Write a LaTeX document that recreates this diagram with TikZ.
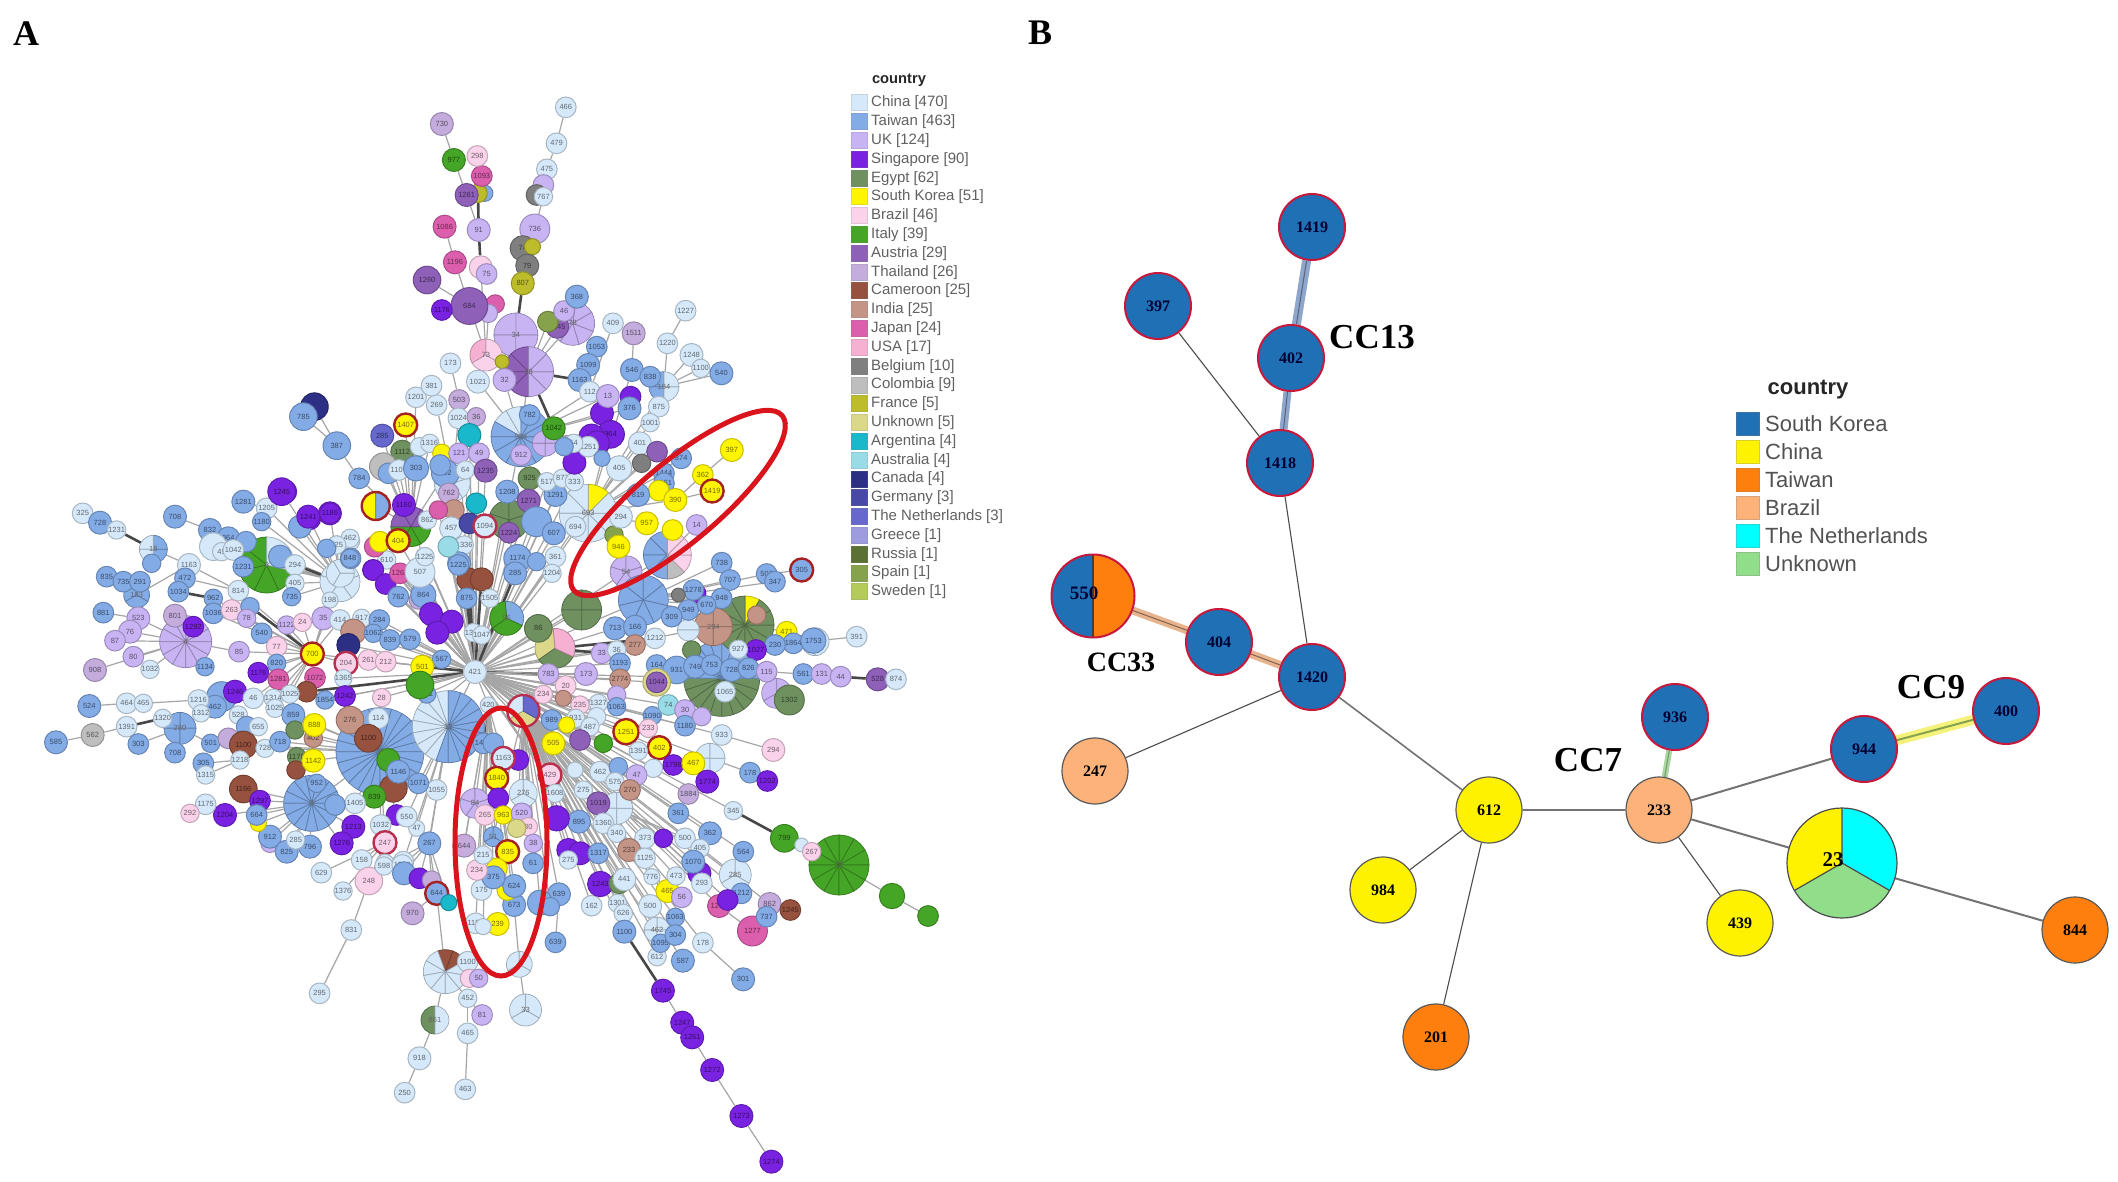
\documentclass[tikz,border=0pt]{standalone}
\usepackage{fontspec}
\setmainfont{Liberation Serif}
\newfontfamily\sfA{Liberation Sans}
\pgfdeclarelayer{paper}\pgfdeclarelayer{edges}\pgfsetlayers{paper,edges,main}
\definecolor{cn}{HTML}{D6E9FA}\definecolor{tw}{HTML}{83ABE6}\definecolor{uk}{HTML}{C8B4F2}
\definecolor{sg}{HTML}{7A22E2}\definecolor{eg}{HTML}{6F9160}\definecolor{kr}{HTML}{FFF500}
\definecolor{br}{HTML}{FAD2EA}\definecolor{it}{HTML}{45A526}\definecolor{at}{HTML}{8E60B8}
\definecolor{th}{HTML}{C4ACDC}\definecolor{cmr}{HTML}{96523F}\definecolor{ind}{HTML}{C49486}
\definecolor{jp}{HTML}{DC5FAE}\definecolor{us}{HTML}{F6B0D2}\definecolor{be}{HTML}{7F7F7F}
\definecolor{co}{HTML}{BEBEBE}\definecolor{fr}{HTML}{BDBD2B}\definecolor{un}{HTML}{DCD889}
\definecolor{ar}{HTML}{19B8CB}\definecolor{au}{HTML}{9ADBE8}\definecolor{ca}{HTML}{2C2F83}
\definecolor{de}{HTML}{4849A6}\definecolor{nl}{HTML}{6668CE}\definecolor{gr}{HTML}{9C9CDE}
\definecolor{ru}{HTML}{5B7133}\definecolor{es}{HTML}{86A24B}\definecolor{se}{HTML}{B4CB5C}
\definecolor{bK}{HTML}{1F70B4}\definecolor{bC}{HTML}{FFF200}\definecolor{bT}{HTML}{FF7F0E}
\definecolor{bB}{HTML}{FDB27A}\definecolor{bN}{HTML}{00FFFF}\definecolor{bU}{HTML}{90DD8A}
\definecolor{crim}{HTML}{C8183C}\definecolor{ringk}{HTML}{A52222}\definecolor{ringc}{HTML}{B8304E}
\definecolor{redell}{HTML}{D9141C}\definecolor{spk}{HTML}{A6A6A6}\definecolor{lgt}{HTML}{505050}
\definecolor{haloK}{HTML}{8FA6CC}\definecolor{haloT}{HTML}{E8B48E}\definecolor{haloC}{HTML}{F4F27A}\definecolor{haloU}{HTML}{A9D6A0}
\tikzset{
 extra/.style={},
 anode/.style={circle,inner sep=0pt,line width=1pt,font=\sfA\fontsize{7.5}{8}\selectfont},
 spoke/.style={spk,line width=1.2pt},
 bspoke/.style={black!72,line width=2.6pt},
 bnode/.style={circle,inner sep=0pt,minimum size=66pt,line width=1.2pt,draw=black!65,font=\bfseries\fontsize{16}{16}\selectfont},
 knode/.style={bnode,fill=bK,draw=crim,line width=2pt,text=black!80!blue},
 bedge/.style={black!70,line width=1.1pt},
 cclabel/.style={font=\bfseries\fontsize{35}{35}\selectfont,inner sep=0pt},
 legA/.style={font=\sfA\fontsize{15}{15}\selectfont,text=black!62,anchor=west,inner sep=0pt},
 legB/.style={font=\sfA\fontsize{22}{22}\selectfont,text=black!68,anchor=west,inner sep=0pt},
 swA/.style={minimum width=16pt,minimum height=16pt,inner sep=0pt,line width=1pt},
 swB/.style={minimum width=23pt,minimum height=23pt,inner sep=0pt,line width=1.4pt},
}
\newcount\ncnt \newcount\tcount
\def\edgelist{}
\def\EE#1#2{\draw[spoke] (#1) -- (#2);}
\def\EB#1#2{\draw[bspoke] (#1) -- (#2);}
\def\ek{\EE}
\def\zz#1#2#3#4{\def\ox{#1}\def\oy{#2}\def\sx{#3}\def\sy{#4}}
\def\addedge#1#2{\edef\tmpa{#2}\ifx\tmpa\empty\else
  \xdef\edgelist{\unexpanded\expandafter{\edgelist}\noexpand\ekx\unexpanded\expandafter{\ek}{#1}{#2}}\fi\gdef\ek{\EE}}
\def\ekx#1{#1}
% [id]{X}{Y}{r}{colour}{label}{parent}
\newcommand{\Nd}[7][]{\global\advance\ncnt by 1
 \def\tid{#1}\ifx\tid\empty\edef\tid{auto\the\ncnt}\fi
 \node[anode,minimum size={2.3*#4pt},fill=#5,draw=#5!78!black,text=#5!45!black,extra] (\tid) at ({\ox+#2/\sx},{\oy+#3/\sy}) {#6};
 \tikzset{extra/.style={}}%
 \addedge{\tid}{#7}}
\newcommand{\Mb}{\gdef\ek{\EB}\Nd}
\newcommand{\Rn}{\tikzset{extra/.style={draw=ringk,line width=2.4pt}}\Nd}
\newcommand{\Rc}{\tikzset{extra/.style={draw=ringc,line width=2.4pt}}\Nd}
% [id]{X}{Y}{r}{start}{spec}{label}{parent}
\newcommand{\PieN}[8][]{\global\advance\ncnt by 1
 \def\tid{#1}\ifx\tid\empty\edef\tid{auto\the\ncnt}\fi
 \node[circle,inner sep=0pt,minimum size={2*#4pt}] (\tid) at ({\ox+#2/\sx},{\oy+#3/\sy}) {};
 \global\tcount=0
 \foreach \pc/\pk in {#6}{\global\advance\tcount by \pk}
 \xdef\cura{#5}\xdef\stepa{\the\tcount}
 \foreach \pc/\pk in {#6}{\foreach \pi in {1,...,\pk}{
   \pgfmathsetmacro\nexta{\cura+360/\stepa}
   \draw[fill=\pc,draw=\pc!72!black,line width=.7pt] (\tid.center) -- ++(\cura:#4pt) arc[start angle=\cura,end angle=\nexta,radius=#4pt] -- cycle;
   \xdef\cura{\nexta}}}
 \node[anode,minimum size={2*#4pt},text=black!60,extra] at (\tid.center) {#7};
 \tikzset{extra/.style={}}%
 \addedge{\tid}{#8}}
\newcommand{\RP}{\tikzset{extra/.style={draw=ringc,line width=2.4pt}}\PieN}
\newcommand{\RK}{\tikzset{extra/.style={draw=ringk,line width=2.4pt}}\PieN}
\begin{document}
\begin{tikzpicture}[x=1pt,y=-1pt]
\begin{pgfonlayer}{paper}
\fill[white] (0,0) rectangle (2118,1182);
\end{pgfonlayer}
\useasboundingbox (0,0) rectangle (2118,1182);
\node[font=\bfseries\fontsize{36}{36}\selectfont,inner sep=0pt] (titleA) at (26,34) {A};
\node[font=\bfseries\fontsize{36}{36}\selectfont,inner sep=0pt] (titleB) at (1040,33) {B};
%% ---------- Panel A: pies
\zz{0}{0}{1}{1}
\Nd[h]{475}{672}{10}{cn}{421}{}
\PieN[p25]{839}{865}{30}{0}{it/12}{12}{n799}
\zz{40}{450}{3}{3}
\PieN[p1]{1020}{905}{44}{0}{tw/24}{11}{h}
\PieN[p2]{1225}{830}{36}{90}{cn/8,tw/10}{12}{h}
\PieN[p3]{815}{1060}{28}{0}{tw/14}{3}{p1}
\PieN[p4]{437}{575}{26}{0}{uk/12}{4}{p33x}
\PieN[p5]{900}{395}{20}{90}{cn/5}{5}{v}
\PieN[p6]{680}{345}{28}{90}{it/5,cn/2}{6}{p5}
\PieN[p20]{420}{835}{16}{0}{tw/4}{280}{n1320}
\PieN[p21]{340}{298}{14}{-90}{tw/2,cn/2}{18}{a1}
\PieN[p33]{1400}{505}{17}{-25}{tw/1,it/2}{96}{h}
\RP[rp]{1450}{783}{16}{90}{cn/1,un/1,nl/1}{}{h}
\PieN[t1]{290}{435}{13}{90}{tw/3}{183}{a1}
\PieN{1450}{1030}{14}{90}{cn/3}{276}{rp}
\PieN{1360}{1160}{10}{90}{tw/3}{51}{rp}
\PieN{1305}{1060}{15}{90}{uk/5}{84}{n420}
\zz{280}{80}{2.904}{3}
\PieN[p17]{685}{765}{22}{0}{uk/4}{34}{p16}
\PieN[p16]{722}{875}{25}{90}{at/4,uk/4}{68}{p7}
\PieN[p18]{850}{730}{22}{30}{uk/7}{78}{p16}
\PieN[p19]{598}{825}{16}{90}{us/1,br/2}{73}{n1021}
\PieN[p7]{700}{1070}{30}{90}{cn/2,tw/10}{934}{h}
\PieN[p8]{895}{1300}{29}{45}{kr/1,cn/7}{693}{h}
\PieN[p9]{1125}{1425}{24}{90}{tw/4,co/1,br/3}{}{h}
\PieN[p28]{665}{1320}{20}{90}{eg/5}{}{h}
\PieN[p29]{380}{1340}{20}{180}{it/3,at/3}{}{h}
\PieN[p30]{500}{1210}{18}{90}{cn/5}{}{h}
\PieN[p31]{1115}{920}{15}{90}{tw/2,cn/2}{184}{p8}
\PieN{175}{1480}{14}{0}{cn/3}{}{v}
\PieN{1005}{1475}{16}{90}{uk/5}{54}{h}
\PieN{770}{1090}{13}{0}{uk/4}{}{p7}
\RK{278}{1278}{14}{90}{kr/1,tw/1}{}{p29}
\zz{500}{450}{3}{3}
\PieN[p10]{430}{450}{25}{90}{tw/7}{}{h}
\PieN[p11]{665}{685}{38}{180}{eg/10,tw/10}{}{h}
\PieN[p12]{735}{525}{29}{60}{kr/1,eg/11}{}{p13}
\PieN[p13]{640}{530}{19}{0}{ind/4}{294}{h}
\PieN[p14]{165}{595}{20}{95}{un/1,eg/1,us/1}{}{h}
\PieN[p15]{245}{480}{20}{0}{eg/4}{}{h}
\PieN[p26]{630}{925}{15}{90}{cn/4}{}{h}
\PieN[p27]{350}{1075}{16}{90}{cn/4}{}{h}
\PieN{830}{730}{15}{90}{uk/3}{}{n115}
\PieN{565}{540}{11}{0}{cn/2}{}{p13}
\PieN{945}{575}{14}{90}{cn/2}{}{n1864}
\zz{280}{780}{2.904}{3}
\PieN[p22]{1322}{285}{16}{90}{cn/3}{285}{h}
\PieN[p23]{480}{575}{22}{30}{cmr/2,cn/7}{}{n644}
\PieN[p24]{713}{690}{16}{90}{cn/3}{33}{n696}
\PieN[n696]{695}{553}{13}{90}{cn/3}{}{n673}
\PieN[n861]{450}{720}{14}{90}{eg/1,cn/1}{861}{p23}
\PieN{1095}{450}{13}{0}{cn/4}{462}{h}
%% ---------- Panel A: nodes, upper zone
\zz{280}{80}{2.904}{3}
\Nd[c1]{830}{82}{9}{cn}{466}{c2}
\Nd[c2]{803}{190}{9}{cn}{479}{c3}
\Nd[c3]{775}{268}{9}{cn}{475}{c4}
\Nd{765}{315}{9}{uk}{}{c4}
\Nd{745}{345}{9}{be}{}{c4}
\Nd[c4]{765}{350}{8}{cn}{767}{c6}
\Nd[c6]{740}{447}{13}{uk}{736}{c7}
\Nd[c7]{705}{505}{11}{be}{74}{c8}
\Nd{733}{500}{7}{fr}{}{c7}
\Nd[c8]{718}{557}{10}{be}{79}{c9}
\Mb[c9]{705}{610}{10}{fr}{807}{p17}
\Nd{805}{740}{10}{at}{1245}{p16}
\Nd{778}{725}{9}{es}{}{p16}
\Nd{825}{693}{9}{uk}{46}{p18}
\Nd{862}{650}{10}{tw}{368}{p18}
\Nd{645}{845}{6}{fr}{}{p19}
\Nd{652}{900}{10}{uk}{32}{p7}
\Nd{625}{672}{8}{jp}{}{d1}
\Nd{605}{700}{8}{uk}{}{p19}
\Nd[d1]{550}{678}{16}{at}{684}{p19}
\Nd{470}{690}{9}{sg}{1176}{d1}
\Nd{427}{600}{12}{at}{1260}{d1}
\Nd[d2]{583}{562}{10}{br}{}{p19}
\Nd{600}{582}{9}{uk}{75}{d2}
\Nd[d3]{508}{547}{10}{jp}{1196}{d1}
\Nd{478}{440}{10}{jp}{1086}{d3}
\Mb[d4]{577}{450}{10}{uk}{91}{d2}
\Nd{595}{340}{7}{tw}{}{d5}
\Mb[d5]{575}{340}{8}{fr}{}{d4}
\Nd[d7]{542}{345}{10}{at}{1261}{d4}
\Nd{586}{288}{9}{jp}{1093}{d5}
\Nd{573}{228}{9}{br}{298}{}
\Nd[d6]{505}{240}{10}{it}{977}{d7}
\Nd{470}{132}{10}{th}{730}{d6}
\Nd[n173]{495}{850}{9}{cn}{173}{n503}
\Nd[n503]{520}{960}{9}{th}{503}{n1024}
\Nd[n1021]{575}{905}{10}{cn}{1021}{p7}
\Nd[n1024]{518}{1015}{9}{cn}{1024}{p30}
\Nd{570}{1010}{8}{th}{36}{p30}
\Nd{455}{975}{9}{cn}{269}{p30}
\Nd{395}{952}{9}{cn}{1201}{p29}
\Nd{440}{917}{9}{cn}{381}{}
\Nd{100}{980}{12}{ca}{}{n387}
\Nd{68}{1010}{12}{tw}{785}{n387}
\Nd[n387]{165}{1097}{12}{tw}{387}{n784}
\Nd[n784]{230}{1195}{9}{tw}{784}{p29}
\Rn{365}{1035}{10}{kr}{1407}{p29}
\Nd{297}{1067}{10}{nl}{285}{p29}
\Nd{355}{1115}{10}{eg}{1112}{p29}
\Nd{405}{1100}{8}{cn}{}{p29}
\Nd{435}{1090}{8}{cn}{1316}{p29}
\Nd{470}{1120}{8}{kr}{}{p30}
\Nd{360}{1275}{10}{sg}{1160}{p29}
\Nd{428}{1320}{8}{cn}{862}{p29}
\Nd{300}{1160}{12}{co}{}{p29}
\Nd{315}{1180}{9}{tw}{}{p29}
\Nd{345}{1170}{9}{cn}{1107}{p29}
\Nd{395}{1165}{11}{tw}{303}{p29}
\Nd{480}{1180}{12}{tw}{302}{p29}
\Nd{465}{1155}{9}{tw}{}{p30}
\Nd{490}{1240}{9}{th}{762}{p30}
\Nd{505}{1290}{9}{ind}{}{h}
\Nd{460}{1290}{8}{jp}{}{h}
\Nd{497}{1345}{10}{cn}{457}{h}
\Nd{550}{1065}{10}{ar}{}{h}
\Nd{520}{1120}{9}{uk}{121}{h}
\Nd{578}{1120}{9}{uk}{49}{h}
\Nd{538}{1170}{8}{cn}{64}{h}
\Nd{597}{1172}{10}{at}{1235}{h}
\Nd{570}{1270}{9}{ar}{}{h}
\Nd{550}{1330}{9}{de}{}{h}
\Rc{595}{1338}{10}{cn}{1094}{h}
\Nd{490}{1400}{9}{au}{32}{h}
\Nd{535}{1395}{8}{cn}{1336}{h}
\Nd{665}{1358}{9}{at}{1224}{p28}
\Nd{700}{1125}{9}{uk}{912}{p7}
\Nd{725}{1005}{9}{tw}{782}{p7}
\Mb{795}{1045}{10}{it}{1042}{p16}
\Nd{725}{1195}{10}{eg}{925}{h}
\Nd{660}{1235}{10}{tw}{1208}{h}
\Nd{722}{1262}{10}{at}{1271}{h}
\Nd{800}{1245}{10}{tw}{1291}{h}
\Nd{775}{1205}{8}{cn}{517}{h}
\Nd{820}{1195}{8}{cn}{877}{h}
\Nd{855}{1205}{8}{cn}{333}{h}
\Nd{745}{1325}{13}{tw}{}{h}
\Nd{795}{1360}{10}{tw}{607}{h}
\Nd{690}{1435}{12}{tw}{1174}{h}
\Nd{745}{1445}{8}{tw}{}{h}
\Mb{683}{1480}{10}{tw}{285}{h}
\Nd{800}{1430}{9}{cn}{361}{h}
\Nd{790}{1480}{8}{cn}{1204}{h}
\Nd{858}{1340}{9}{cn}{694}{h}
\Nd{520}{1450}{10}{tw}{1325}{h}
\Nd{405}{1480}{10}{cn}{507}{h}
\Nd{420}{1430}{8}{cn}{1225}{h}
\Nd{310}{1440}{8}{cn}{610}{h}
\Nd{350}{1480}{8}{jp}{1263}{h}
\Nd{275}{1400}{9}{jp}{}{h}
\Nd{290}{1385}{9}{kr}{}{h}
\Rn{343}{1382}{10}{kr}{404}{h}
\Nd{270}{1470}{9}{sg}{}{h}
\Nd{205}{1383}{8}{cn}{462}{}
\Nd{165}{1395}{8}{cn}{125}{}
\Nd{145}{1300}{10}{sg}{}{}
\Nd{85}{1315}{10}{sg}{}{}
\Nd{15}{1235}{10}{sg}{}{}
\Nd{205}{1435}{9}{tw}{848}{}
\Nd{45}{1455}{8}{cn}{294}{}
\Nd{855}{1148}{10}{sg}{}{p8}
\Nd{935}{1000}{10}{sg}{}{p7}
\Nd{960}{1063}{12}{sg}{964}{p7}
\Nd{905}{1070}{11}{sg}{}{p7}
\Nd{920}{1090}{11}{sg}{}{p7}
\Nd{1018}{950}{9}{sg}{}{n376}
\Nd[n376]{1015}{985}{10}{tw}{376}{p7}
\Nd{895}{1100}{9}{cn}{1251}{p7}
\Nd{853}{1090}{8}{cn}{54}{p7}
\Nd{825}{1100}{8}{tw}{}{p7}
\Nd[n546]{1022}{870}{10}{tw}{546}{p8}
\Nd{1027}{760}{10}{th}{1511}{n546}
\Nd{967}{730}{9}{cn}{409}{n112}
\Nd{920}{800}{9}{tw}{1053}{n1099}
\Nd[n1099]{895}{855}{10}{tw}{1099}{n1163}
\Mb[n1163]{870}{900}{10}{tw}{1163}{p16}
\Nd[n112]{900}{935}{9}{cn}{112}{p7}
\Nd{952}{948}{10}{uk}{13}{p7}
\Nd{1178}{692}{9}{cn}{1227}{n1220}
\Nd[n1220]{1125}{790}{9}{cn}{1220}{p31}
\Nd{1195}{825}{10}{cn}{1248}{p31}
\Nd{1222}{865}{8}{cn}{1100}{p31}
\Nd{1282}{880}{10}{tw}{540}{p31}
\Nd{1075}{890}{9}{tw}{838}{p31}
\Nd{1100}{980}{9}{cn}{875}{p31}
\Nd{1075}{1028}{8}{cn}{1001}{p8}
\Nd{1045}{1090}{10}{cn}{401}{p8}
\Nd{1095}{1115}{9}{at}{}{p8}
\Nd{1165}{1135}{9}{tw}{874}{p8}
\Nd{1115}{1180}{9}{tw}{1444}{p8}
\Nd{1115}{1210}{9}{tw}{1161}{p8}
\Nd{1312}{1110}{10}{kr}{397}{n362}
\Nd[n362]{1228}{1185}{9}{kr}{362}{n390}
\Rn{1255}{1233}{10}{kr}{1419}{n390}
\Nd{1100}{1232}{9}{kr}{}{n390}
\Nd[n390]{1148}{1260}{10}{kr}{390}{p8}
\Nd{1065}{1330}{10}{kr}{957}{p8}
\Nd{1140}{1350}{9}{kr}{}{p9}
\Nd{970}{1365}{8}{es}{}{p8}
\Nd{983}{1400}{10}{kr}{946}{p8}
\Nd{1210}{1335}{9}{uk}{14}{p9}
\Nd{1040}{1245}{10}{tw}{819}{p8}
\Nd{990}{1310}{10}{cn}{294}{p8}
\Nd{985}{1165}{11}{cn}{405}{p8}
\Nd{1050}{1150}{8}{be}{}{p8}
\Nd{935}{1135}{7}{tw}{}{p8}
\zz{500}{450}{3}{3}
\Rn{905}{360}{10}{tw}{305}{n507}
\Nd[n507]{800}{372}{9}{tw}{507}{p10}
\Nd{825}{395}{9}{tw}{347}{p10}
\Nd{665}{338}{9}{tw}{738}{p10}
\Nd{690}{390}{9}{tw}{707}{p10}
\Nd{665}{445}{9}{tw}{948}{p10}
\Nd{590}{430}{8}{sg}{}{p10}
\Nd{580}{420}{9}{tw}{1278}{p10}
\Nd{565}{480}{9}{tw}{949}{p10}
\Nd{515}{500}{9}{tw}{309}{p10}
\Nd{620}{465}{8}{tw}{670}{p10}
\Nd{535}{435}{6}{be}{}{p10}
\Nd{345}{535}{10}{tw}{713}{h}
\Nd{405}{530}{10}{tw}{166}{p10}
\Nd{115}{535}{12}{eg}{86}{h}
\Mb{465}{565}{9}{cn}{1212}{p14}
\Nd{405}{585}{9}{ind}{277}{h}
\Mb{305}{610}{9}{uk}{33}{p14}
\Nd{350}{600}{8}{cn}{36}{h}
\Nd{770}{495}{8}{ind}{}{p12}
\Nd{860}{545}{9}{kr}{471}{p12}
\Nd[n1864]{880}{580}{9}{tw}{1864}{n230}
\Nd{940}{572}{11}{tw}{1753}{n1864}
\Nd{1070}{560}{9}{cn}{391}{n1864}
\Nd[n230]{825}{585}{9}{tw}{230}{p12}
\Nd{768}{600}{9}{sg}{1027}{p12}
\Nd{715}{598}{8}{cn}{927}{p12}
\Nd{575}{600}{8}{eg}{}{p11}
\Nd{360}{640}{9}{tw}{1193}{h}
\Nd{470}{645}{9}{tw}{164}{p11}
\Nd{530}{660}{12}{tw}{931}{p11}
\Nd{585}{650}{10}{tw}{749}{p11}
\Nd{635}{645}{9}{tw}{753}{p11}
\Nd{695}{660}{10}{tw}{728}{p11}
\Nd{745}{655}{9}{tw}{826}{p11}
\Nd{675}{725}{9}{cn}{1065}{p11}
\Nd[n115]{800}{665}{9}{uk}{115}{p11}
\Nd[n561]{910}{672}{9}{tw}{561}{n115}
\Nd[n131]{965}{672}{9}{uk}{131}{n561}
\Nd[n44]{1022}{680}{9}{uk}{44}{n131}
\Mb[n528]{1133}{688}{10}{at}{528}{n44}
\Nd{1188}{688}{9}{cn}{874}{n528}
\Nd{868}{750}{13}{eg}{1302}{n115}
\Mb{145}{672}{9}{uk}{783}{h}
\Nd{258}{672}{10}{uk}{173}{h}
\Nd{360}{688}{9}{ind}{2774}{h}
\Nd{470}{697}{12}{un}{}{h}
\Nd{470}{697}{9}{at}{1044}{}
\Nd{197}{708}{9}{br}{20}{h}
\Nd{130}{733}{8}{br}{234}{h}
\Nd{190}{745}{7}{ind}{}{h}
\Nd{240}{765}{8}{br}{235}{h}
\Nd{295}{760}{8}{cn}{1327}{h}
\Nd{350}{735}{8}{uk}{}{h}
\Nd{350}{770}{8}{tw}{1063}{h}
\Nd{227}{805}{8}{cn}{931}{h}
\Nd{457}{797}{8}{tw}{1090}{h}
\Nd{505}{765}{9}{au}{74}{h}
\Nd{555}{780}{9}{uk}{30}{n1180}
\Nd[n1180]{555}{827}{9}{tw}{1180}{h}
\Nd{605}{800}{8}{uk}{}{n1180}
\Nd{155}{810}{9}{tw}{989}{rp}
\Nd{200}{825}{7}{kr}{}{rp}
\Nd{160}{880}{10}{kr}{505}{rp}
\Nd{290}{800}{8}{cn}{}{h}
\Nd{270}{830}{8}{cn}{487}{h}
\Nd{240}{870}{9}{at}{}{h}
\Nd{310}{880}{8}{it}{}{h}
\Rn{378}{845}{11}{kr}{1251}{h}
\Nd{445}{835}{8}{br}{233}{h}
\Rn{478}{893}{10}{kr}{402}{h}
\Nd{415}{903}{8}{cn}{1391}{h}
\Nd{460}{955}{8}{cn}{}{h}
\Nd{520}{945}{9}{sg}{1798}{p26}
\Nd{580}{940}{10}{kr}{467}{p26}
\Nd{622}{995}{10}{sg}{1774}{p26}
\Nd[n933b]{665}{855}{9}{cn}{933}{h}
\Nd{820}{900}{10}{br}{294}{n933b}
\Nd[n178]{750}{968}{9}{tw}{178}{p26}
\Nd{802}{993}{9}{sg}{1202}{n178}
\Rc{150}{975}{10}{br}{429}{rp}
\Nd{165}{1030}{8}{cn}{1608}{rp}
\Nd{300}{965}{9}{cn}{462}{h}
\Nd{355}{950}{8}{tw}{}{h}
\Nd{345}{995}{8}{cn}{575}{h}
\Nd{410}{975}{9}{uk}{47}{h}
\Nd{250}{1020}{8}{cn}{275}{rp}
\Nd{225}{960}{7}{cn}{}{rp}
\Nd{390}{1020}{9}{ind}{270}{h}
\Nd{295}{1060}{10}{at}{1019}{p27}
\Nd{565}{1032}{9}{th}{1884}{h}
\Nd[n345]{700}{1082}{8}{cn}{345}{h}
\Nd{535}{1090}{9}{tw}{361}{h}
\Nd{630}{1150}{10}{tw}{362}{h}
\Nd{237}{1115}{10}{tw}{895}{rp}
\Nd{310}{1120}{9}{cn}{1360}{p27}
\Nd{350}{1150}{8}{cn}{340}{p27}
\Nd{435}{1165}{9}{cn}{373}{p27}
\Nd{387}{1200}{10}{ind}{233}{p27}
\Nd{490}{1165}{8}{sg}{}{p27}
\Nd{555}{1165}{9}{cn}{500}{p27}
\Nd{600}{1195}{8}{cn}{405}{p27}
\Nd{730}{1205}{9}{tw}{564}{h}
\Mb[n799]{853}{1165}{12}{it}{799}{n345}
\Nd{905}{1185}{6}{cn}{}{n799}
\Nd{935}{1205}{8}{br}{267}{n799}
\Nd{170}{1105}{11}{sg}{}{rp}
\Nd{205}{1200}{10}{sg}{}{rp}
\Nd{240}{1210}{10}{sg}{}{rp}
\Nd{205}{1230}{8}{cn}{275}{rp}
\Nd{295}{1210}{9}{tw}{1317}{h}
\Nd{435}{1225}{9}{cn}{1125}{h}
\zz{0}{0}{1}{1}
\Nd[i1]{892}{896}{11}{it}{}{p25}
\Nd{928}{916}{9}{it}{}{i1}
%% ---------- Panel A: nodes, left zone
\zz{40}{450}{3}{3}
\Nd{128}{190}{9}{cn}{325}{n728}
\Nd[n728]{180}{218}{10}{tw}{728}{n1231a}
\Mb[n1231a]{230}{240}{8}{cn}{1231}{p21}
\Nd{335}{340}{8}{tw}{}{p21}
\Nd[a1]{447}{345}{10}{cn}{1163}{n814}
\Nd{435}{385}{9}{tw}{472}{n814}
\Mb{415}{425}{9}{tw}{1034}{n962}
\Nd{405}{200}{10}{tw}{708}{n832}
\Nd[n832]{510}{240}{10}{tw}{832}{n864}
\Nd[n864]{565}{265}{10}{tw}{864}{p5}
\Nd{618}{275}{9}{tw}{}{p5}
\Nd{520}{290}{12}{cn}{}{p5}
\Nd{545}{305}{8}{cn}{45}{p5}
\Nd{580}{300}{9}{cn}{1042}{p5}
\Nd{610}{155}{10}{tw}{1281}{n1205}
\Nd[n1205]{680}{175}{9}{cn}{1205}{p5}
\Nd{665}{215}{8}{tw}{1180}{p5}
\Nd{725}{125}{12}{sg}{1245}{p5}
\Nd{780}{230}{10}{tw}{}{p5}
\Nd{805}{200}{10}{sg}{1241}{p5}
\Nd{870}{190}{9}{sg}{1186}{p5}
\Nd{720}{320}{10}{tw}{}{p5}
\Nd{610}{350}{9}{tw}{1231}{p6}
\Mb{765}{345}{9}{cn}{294}{p5}
\Nd{765}{400}{8}{cn}{405}{p5}
\Nd{755}{440}{8}{tw}{735}{p5}
\Nd{930}{265}{8}{cn}{462}{p5}
\Nd{890}{285}{8}{cn}{125}{p5}
\Nd{860}{295}{8}{tw}{}{p5}
\Nd{930}{325}{8}{tw}{848}{p5}
\Nd{870}{450}{7}{cn}{198}{p5}
\Nd{200}{380}{9}{tw}{835}{t1}
\Nd{250}{395}{9}{tw}{735}{t1}
\Nd{300}{395}{9}{tw}{291}{t1}
\Nd[n814]{595}{422}{9}{cn}{814}{v}
\Nd[n962]{520}{445}{8}{tw}{962}{v}
\Nd{520}{490}{9}{tw}{1036}{v}
\Nd{575}{480}{9}{br}{263}{v}
\Mb{630}{470}{8}{tw}{}{v}
\Nd{620}{505}{8}{uk}{78}{v}
\Nd{190}{488}{9}{tw}{881}{n523}
\Nd[n523]{295}{505}{10}{uk}{523}{p4}
\Nd{270}{545}{10}{uk}{76}{p4}
\Nd{225}{572}{9}{uk}{87}{p4}
\Nd{280}{620}{9}{uk}{80}{p4}
\Nd{405}{497}{10}{th}{801}{p4}
\Nd{460}{530}{9}{sg}{1292}{p4}
\Nd{330}{658}{8}{cn}{1032}{p4}
\Nd{165}{660}{10}{th}{908}{p4}
\Nd{495}{650}{8}{tw}{1134}{p4}
\Nd[p33x]{597}{605}{9}{uk}{85}{v}
\Nd{665}{550}{9}{tw}{540}{v}
\Nd{740}{525}{8}{uk}{1122}{v}
\Nd{787}{517}{8}{br}{24}{v}
\Nd{710}{590}{9}{br}{77}{v}
\Rn[v]{817}{612}{10}{kr}{700}{h}
\Nd{710}{640}{8}{tw}{820}{v}
\Nd{655}{668}{9}{sg}{1176}{v}
\Nd{715}{688}{9}{jp}{1281}{v}
\Nd{825}{683}{9}{jp}{1072}{v}
\Nd{850}{505}{10}{uk}{35}{v}
\Nd{900}{510}{9}{cn}{414}{v}
\Nd{965}{505}{8}{cn}{917}{h}
\Nd{940}{545}{11}{ind}{}{h}
\Nd{925}{585}{10}{ca}{}{h}
\Rc{918}{640}{10}{br}{204}{v}
\Nd{985}{630}{9}{br}{261}{h}
\Nd{1037}{635}{9}{br}{212}{h}
\Nd{1018}{510}{9}{tw}{284}{h}
\Nd{1000}{550}{8}{tw}{1062}{h}
\Nd{1050}{570}{9}{tw}{839}{h}
\Nd{1110}{568}{9}{tw}{579}{h}
\Nd{1205}{628}{8}{tw}{567}{h}
\Mb{1147}{650}{10}{kr}{501}{h}
\Nd{1160}{732}{8}{tw}{501}{h}
\Nd{1140}{705}{12}{it}{}{h}
\Nd{1025}{743}{8}{br}{28}{h}
\Nd{910}{685}{6}{cn}{1365}{h}
\Mb{800}{725}{9}{cmr}{}{h}
\Nd{915}{738}{9}{sg}{1242}{h}
\Nd{855}{750}{8}{tw}{1854}{h}
\Nd[n545]{545}{740}{13}{tw}{}{n1216}
\Nd{525}{770}{10}{tw}{462}{n1216}
\Nd{585}{725}{10}{sg}{1246}{n545}
\Nd{640}{745}{9}{cn}{46}{v}
\Nd{700}{745}{8}{cn}{1314}{v}
\Nd{750}{732}{8}{cn}{1025}{v}
\Nd{705}{775}{8}{cn}{1025}{v}
\Nd[n1216]{475}{750}{9}{cn}{1216}{n465}
\Nd{483}{790}{7}{cn}{1312}{}
\Nd{148}{768}{10}{tw}{524}{n464}
\Mb[n464]{260}{760}{9}{cn}{464}{n465}
\Nd[n465]{310}{760}{8}{cn}{465}{}
\Nd{48}{877}{10}{tw}{585}{n562}
\Nd[n562]{158}{855}{10}{co}{562}{n1391}
\Mb[n1391]{260}{830}{9}{cn}{1391}{n1320}
\Nd[n1320]{368}{805}{8}{cn}{1320}{p20}
\Nd{295}{882}{9}{tw}{303}{p20}
\Nd{405}{908}{9}{tw}{708}{p20}
\Nd{512}{880}{8}{tw}{501}{p20}
\Nd{490}{940}{9}{tw}{305}{n1218}
\Nd{595}{795}{8}{cn}{528}{}
\Nd{620}{830}{9}{tw}{}{}
\Nd{655}{830}{8}{cn}{655}{}
\Nd{565}{865}{9}{th}{}{}
\Nd[n610]{610}{885}{12}{cmr}{1100}{p1}
\Nd[n1218]{600}{930}{8}{cn}{1218}{n610}
\Nd{497}{975}{8}{cn}{1315}{n1218}
\Nd{675}{895}{8}{cn}{728}{p1}
\Nd{720}{875}{9}{tw}{718}{p1}
\Nd{760}{795}{10}{tw}{859}{p1}
\Nd{765}{840}{8}{eg}{}{p1}
\Nd{820}{865}{8}{ind}{402}{p1}
\Nd{823}{825}{10}{kr}{888}{p1}
\Nd{930}{810}{12}{ind}{276}{p1}
\Nd{1015}{805}{9}{cn}{114}{p1}
\Nd{985}{865}{12}{cmr}{1100}{p1}
\Nd{770}{920}{8}{eg}{1178}{p3}
\Nd{768}{960}{8}{cmr}{}{p3}
\Nd{820}{932}{10}{kr}{1142}{p1}
\Nd{610}{1017}{12}{cmr}{1166}{p3}
\Nd{660}{1052}{9}{sg}{1297}{p3}
\Nd{555}{1095}{10}{sg}{1204}{p3}
\Nd{497}{1063}{9}{cn}{1175}{n292}
\Nd[n292]{450}{1090}{8}{br}{292}{}
\Nd{1045}{930}{10}{it}{}{p1}
\Nd{1060}{1015}{12}{cmr}{}{p1}
\Nd{1075}{965}{10}{tw}{1146}{p1}
\Nd{1003}{1040}{10}{it}{839}{p1}
\Nd{945}{1060}{9}{cn}{1405}{p1}
\Nd{885}{1065}{9}{tw}{}{p3}
\Nd{830}{1000}{8}{tw}{952}{p3}
\Nd{940}{1130}{10}{sg}{1213}{p3}
\Nd{905}{1180}{10}{sg}{1276}{p3}
\Nd{1070}{1095}{9}{sg}{}{p1}
\Nd{1022}{1125}{9}{cn}{1032}{p1}
\Nd{1130}{1135}{7}{cn}{47}{p2}
\Nd{1100}{1100}{9}{cn}{550}{p2}
\Nd{690}{1180}{8}{uk}{}{p3}
\Nd{690}{1160}{10}{tw}{912}{p3}
\Nd{655}{1120}{7}{kr}{}{p3}
\Nd{650}{1095}{9}{tw}{664}{p3}
\Nd{740}{1205}{10}{tw}{825}{p3}
\Nd{810}{1190}{10}{tw}{796}{p3}
\Nd{767}{1170}{8}{cn}{285}{p3}
\Rc[n247]{1035}{1178}{10}{br}{247}{p1}
\Nd{965}{1230}{9}{cn}{158}{n247}
\Nd{1035}{1240}{8}{cn}{598}{n247}
\Nd{1090}{1235}{9}{cn}{1509}{p2}
\Nd{1168}{1180}{10}{tw}{267}{p2}
\Nd{1190}{1020}{9}{cn}{1055}{p2}
\Nd{1135}{1000}{9}{tw}{1071}{p2}
\Nd{1000}{360}{9}{sg}{}{h}
\Nd{1037}{402}{9}{sg}{}{h}
\Nd{1080}{370}{9}{jp}{1263}{h}
\Nd{1075}{440}{9}{tw}{762}{h}
\Nd{1135}{450}{8}{th}{}{h}
\Nd{1150}{435}{11}{tw}{864}{h}
\Nd{1173}{492}{10}{sg}{}{h}
\Nd{1235}{515}{10}{sg}{}{h}
\Nd{1192}{548}{10}{sg}{}{h}
\Mb{1285}{388}{10}{cmr}{}{h}
\Mb{1325}{388}{10}{cmr}{}{h}
\Mb{1280}{445}{9}{tw}{875}{h}
\Nd{1350}{445}{8}{cn}{1505}{h}
\Nd{1300}{548}{8}{cn}{1354}{h}
\Nd{1325}{555}{8}{cn}{1047}{h}
\Nd{1225}{290}{9}{au}{}{h}
\Nd{1255}{345}{9}{tw}{1225}{h}
\Nd{1140}{367}{13}{cn}{507}{h}
\Nd{1155}{320}{8}{cn}{1225}{h}
\Nd[n420]{1345}{765}{7}{cn}{420}{h}
\Mb{1330}{880}{9}{tw}{1404}{n420}
\Nd{1360}{880}{9}{tw}{}{n420}
\Nd{1435}{930}{9}{sg}{}{rp}
\Rc{1390}{925}{10}{cn}{1163}{n420}
\Rn{1370}{985}{10}{kr}{1840}{n420}
\Nd{1375}{1045}{9}{sg}{}{n420}
\Nd{1335}{1095}{9}{br}{265}{n420}
\Nd{1390}{1095}{8}{kr}{963}{n420}
\Nd{1445}{1090}{9}{uk}{520}{rp}
\Nd{1465}{1130}{8}{br}{80}{rp}
\Nd{1430}{1135}{8}{un}{}{rp}
\Nd{1480}{1180}{8}{uk}{38}{rp}
\Nd{1272}{1185}{9}{th}{}{n420}
\Rn{1403}{1205}{10}{kr}{835}{n420}
\zz{280}{780}{2.904}{3}
\Nd{115}{640}{9}{cn}{295}{n831}
\Nd[n831]{207}{450}{9}{cn}{831}{n248}
\Nd[n248]{258}{303}{12}{br}{248}{n247}
\Nd{183}{333}{8}{cn}{1376}{n247}
\Nd{120}{278}{9}{cn}{629}{n247}
\Nd{302}{258}{8}{cn}{598}{n267}
\Nd{355}{255}{9}{cn}{1529}{n267}
\Nd{385}{400}{10}{th}{970}{n644}
\Nd{360}{280}{10}{tw}{}{n267}
\Nd{405}{295}{9}{sg}{}{n267}
\Nd[n267]{432}{188}{1}{tw}{}{p2}
\Nd{440}{300}{8}{th}{}{n267}
\Rn[n644]{455}{340}{10}{tw}{644}{n267}
\Nd{490}{368}{7}{ar}{}{n267}
\Nd{545}{545}{9}{cn}{1100}{p23}
\Nd{550}{595}{8}{br}{}{p23}
\Nd{577}{595}{8}{uk}{50}{p23}
\Nd[n452]{545}{655}{8}{cn}{452}{p23}
\Nd{587}{705}{9}{uk}{81}{n452}
\Nd[n465b]{545}{760}{9}{cn}{465}{n452}
\Nd{538}{928}{9}{cn}{463}{n465b}
\Nd[n918]{405}{835}{10}{cn}{918}{n861}
\Nd{362}{938}{9}{cn}{250}{n918}
\Nd{800}{487}{9}{tw}{639}{n639}
\Nd[n639]{810}{343}{10}{tw}{639}{rp}
\Nd{755}{368}{11}{tw}{}{rp}
\Nd{785}{380}{8}{tw}{}{rp}
\Nd{632}{432}{10}{kr}{239}{n673}
\Nd{568}{430}{9}{cn}{1197}{n420}
\Nd{590}{440}{7}{cn}{}{n420}
\Nd{585}{330}{9}{cn}{175}{n420}
\Nd[n673]{680}{375}{10}{tw}{673}{n420}
\Nd{660}{330}{9}{kr}{}{n420}
\Nd{680}{318}{10}{tw}{624}{n420}
\Nd{630}{265}{9}{kr}{}{n420}
\Nd{620}{292}{10}{tw}{375}{n420}
\Nd{572}{270}{9}{br}{234}{n420}
\Nd{535}{197}{10}{th}{644}{n420}
\Nd{590}{225}{8}{cn}{215}{n420}
\Nd{735}{250}{9}{tw}{61}{rp}
\Nd{905}{377}{9}{cn}{162}{rp}
\Nd{930}{312}{11}{sg}{1243}{rp}
\Nd{985}{310}{9}{eg}{}{rp}
\Nd{1000}{298}{10}{cn}{441}{rp}
\Nd{980}{370}{8}{cn}{1301}{rp}
\Nd{1075}{378}{10}{cn}{500}{rp}
\Nd{997}{400}{8}{cn}{626}{rp}
\Nd[n1100]{1000}{455}{10}{tw}{1100}{rp}
\Nd{1095}{530}{8}{cn}{612}{rp}
\Nd{1105}{490}{8}{tw}{1095}{rp}
\Nd{1148}{412}{8}{tw}{1063}{rp}
\Nd{1148}{465}{9}{tw}{304}{rp}
\Nd{1170}{542}{10}{tw}{587}{rp}
\Nd[n178b]{1228}{488}{9}{cn}{178}{rp}
\Nd{1345}{598}{10}{tw}{301}{n178b}
\Mb[s1]{1112}{632}{10}{sg}{1745}{n1100}
\Nd[s2]{1168}{728}{10}{sg}{1247}{s1}
\Nd[s3]{1197}{772}{10}{sg}{1261}{s2}
\Nd[s4]{1255}{870}{10}{sg}{1272}{s3}
\Nd[s5]{1340}{1008}{10}{sg}{1273}{s4}
\Nd{1427}{1145}{10}{sg}{1274}{s5}
\Nd{1125}{333}{10}{kr}{465}{rp}
\Nd{1167}{352}{9}{uk}{56}{rp}
\Nd{1150}{288}{8}{cn}{473}{rp}
\Nd{1080}{290}{7}{cn}{776}{rp}
\Nd{1218}{280}{10}{sg}{}{rp}
\Nd{1225}{310}{9}{cn}{293}{rp}
\Nd{1200}{245}{10}{tw}{1070}{rp}
\Nd{1340}{340}{9}{tw}{1212}{rp}
\Nd[n1278]{1275}{378}{10}{jp}{1278}{rp}
\Nd{1300}{360}{9}{sg}{}{rp}
\Nd{1372}{453}{13}{jp}{1277}{n1278}
\Nd[n862b]{1422}{372}{10}{th}{862}{rp}
\Nd{1413}{410}{9}{tw}{737}{n862b}
\Nd{1482}{390}{9}{cmr}{1245}{n862b}
%% ---------- connectors of panel A (all behind the nodes)
\begin{pgfonlayer}{edges}
\def\ekx#1{#1}
\edgelist
\end{pgfonlayer}
%% ---------- red ellipses
\node[circle,inner sep=0pt,minimum size=1pt] (ec1) at (678,503) {};
\node[circle,inner sep=0pt,minimum size=1pt] (ec2) at (501,842) {};
\draw[redell,line width=5pt] (ec1.center) circle[x radius=136pt,y radius=40pt,rotate=40];
\draw[redell,line width=5pt] (ec2.center) circle[x radius=46pt,y radius=134pt];
%% ---------- legend A
\node[font=\sfA\bfseries\fontsize{14.7}{15}\selectfont,text=black!85,inner sep=0pt] (legAt) at (899,80) {country};
\def\lrow#1#2#3{\node[swA,fill=#2,draw=#2!80!gray] (la#1) at (859,{103+#1*18.8}) {};\node[legA] at (871,{103+#1*18.8}) {#3};}
\lrow{0}{cn}{China [470]}\lrow{1}{tw}{Taiwan [463]}\lrow{2}{uk}{UK [124]}\lrow{3}{sg}{Singapore [90]}
\lrow{4}{eg}{Egypt [62]}\lrow{5}{kr}{South Korea [51]}\lrow{6}{br}{Brazil [46]}\lrow{7}{it}{Italy [39]}
\lrow{8}{at}{Austria [29]}\lrow{9}{th}{Thailand [26]}\lrow{10}{cmr}{Cameroon [25]}\lrow{11}{ind}{India [25]}
\lrow{12}{jp}{Japan [24]}\lrow{13}{us}{USA [17]}\lrow{14}{be}{Belgium [10]}\lrow{15}{co}{Colombia [9]}
\lrow{16}{fr}{France [5]}\lrow{17}{un}{Unknown [5]}\lrow{18}{ar}{Argentina [4]}\lrow{19}{au}{Australia [4]}
\lrow{20}{ca}{Canada [4]}\lrow{21}{de}{Germany [3]}\lrow{22}{nl}{The Netherlands [3]}\lrow{23}{gr}{Greece [1]}
\lrow{24}{ru}{Russia [1]}\lrow{25}{es}{Spain [1]}\lrow{26}{se}{Sweden [1]}
%% ---------- Panel B
\node[knode] (b1419) at (1312,227) {1419};
\node[knode] (b397) at (1158,306) {397};
\node[knode] (b402) at (1291,358) {402};
\node[knode] (b1418) at (1280,463) {1418};
\node[knode] (b404) at (1219,642) {404};
\node[knode] (b1420) at (1312,677) {1420};
\node[knode] (b936) at (1675,717) {936};
\node[knode] (b944) at (1864,749) {944};
\node[knode] (b400) at (2006,711) {400};
\node[bnode,fill=bB] (b247) at (1095,771) {247};
\node[bnode,fill=bC] (b612) at (1489,810) {612};
\node[bnode,fill=bB] (b233) at (1659,810) {233};
\node[bnode,fill=bC] (b984) at (1383,890) {984};
\node[bnode,fill=bC] (b439) at (1740,923) {439};
\node[bnode,fill=bT] (b844) at (2075,930) {844};
\node[bnode,fill=bT] (b201) at (1436,1037) {201};
% pie 550
\node[circle,inner sep=0pt,minimum size=83pt] (b550) at (1093,596) {};
\fill[bK] (b550.center) ++(0,-41.5) arc[start angle=90,delta angle=180,radius=41.5pt] -- cycle;
\fill[bT] (b550.center) ++(0,-41.5) arc[start angle=90,delta angle=-180,radius=41.5pt] -- cycle;
\draw[black!75,line width=1.2pt] (b550.center) ++(0,-41.5) -- ++(0,83);
\draw[crim,line width=2pt] (b550.center) circle[radius=41.5pt];
\node[font=\bfseries\fontsize{19}{19}\selectfont,text=black!80!blue,inner sep=0pt] at (1084,593) {550};
% pie 23
\node[circle,inner sep=0pt,minimum size=110pt] (b23) at (1842,863) {};
\fill[bC] (b23.center) -- ++(90:55pt) arc[start angle=90,end angle=210,radius=55pt] -- cycle;
\fill[bU] (b23.center) -- ++(210:55pt) arc[start angle=210,end angle=330,radius=55pt] -- cycle;
\fill[bN] (b23.center) -- ++(330:55pt) arc[start angle=330,end angle=450,radius=55pt] -- cycle;
\draw[black!70,line width=1.2pt] (b23.center) -- ++(90:55pt) (b23.center) -- ++(210:55pt) (b23.center) -- ++(330:55pt);
\draw[black!70,line width=1.2pt] (b23.center) circle[radius=55pt];
\node[font=\bfseries\fontsize{21}{21}\selectfont,inner sep=0pt] at (1833,860) {23};
\begin{pgfonlayer}{edges}
\draw[bedge] (b397) -- (b1418);
\draw[bedge] (b1418) -- (b1420);
\draw[bedge] (b1420) -- (b247);
\draw[bedge,line width=1.6pt,black!55] (b1420) -- (b612);
\draw[bedge,line width=2pt,black!55] (b612) -- (b233);
\draw[bedge] (b612) -- (b984);
\draw[bedge] (b612) -- (b201);
\draw[bedge,line width=2pt,black!55] (b233) -- (b944);
\draw[bedge,line width=2pt,black!55] (b233) -- (b23);
\draw[bedge,line width=2pt,black!55] (b23) -- (b844);
\draw[bedge] (b233) -- (b439);
\draw[color=haloK,line width=9pt] (b1419) -- (b402);
\draw[color=haloK,line width=8pt] (b402) -- (b1418);
\draw[color=black!40!haloK,line width=1pt] (b1419) -- (b402) -- (b1418);
\draw[color=haloT,line width=8pt] (b550) -- (b404);
\draw[color=haloT,line width=8pt] (b404) -- (b1420);
\draw[color=black!45!haloT,line width=1pt] (b550) -- (b404) -- (b1420);
\draw[color=haloU,line width=6pt] (b936) -- (b233);
\draw[color=black!30!haloU,line width=1pt] (b936) -- (b233);
\draw[color=haloC,line width=10pt] (b944) -- (b400);
\draw[color=es,line width=2pt] (b944) -- (b400);
\end{pgfonlayer}
\node[cclabel] (cc13) at (1372,337) {CC13};
\node[cclabel,font=\bfseries\fontsize{28}{28}\selectfont] (cc33) at (1121,662) {CC33};
\node[cclabel] (cc7) at (1588,760) {CC7};
\node[cclabel] (cc9) at (1931,687) {CC9};
\node[font=\sfA\bfseries\fontsize{22}{22}\selectfont,text=black!85,inner sep=0pt] (legBt) at (1808,390) {country};
\def\brow#1#2#3{\node[swB,fill=#2,draw=#2!70!gray] (lb#1) at (1748,{424+#1*28}) {};\node[legB] at (1765,{424+#1*28}) {#3};}
\brow{0}{bK}{South Korea}\brow{1}{bC}{China}\brow{2}{bT}{Taiwan}\brow{3}{bB}{Brazil}\brow{4}{bN}{The Netherlands}\brow{5}{bU}{Unknown}
\end{tikzpicture}
\end{document}
